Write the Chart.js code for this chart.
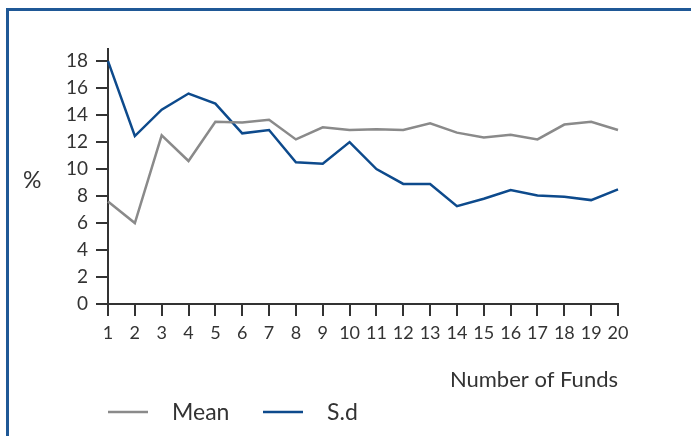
<!DOCTYPE html>
<html>
<head>
<meta charset="utf-8">
<script src="https://cdn.jsdelivr.net/npm/chart.js@4/dist/chart.umd.min.js"></script>
<style>
  html, body { margin: 0; padding: 0; background: #fff; }
  #wrap { position: relative; width: 691px; height: 436px; overflow: hidden; }
  #frame { position: absolute; left: 6px; top: 8px; width: 700px; height: 450px;
           border-left: 3px solid #1f5896; border-top: 3px solid #1f5896; }
  canvas { position: absolute; left: 0; top: 0; }
</style>
</head>
<body>
<div id="wrap">
  <div id="frame"></div>
  <canvas id="myChart" width="691" height="436"></canvas>
</div>
<script>
// data
let funds = ['1','2','3','4','5','6','7','8','9','10','11','12','13','14','15','16','17','18','19','20']
let meanValues = [7.6, 6.0, 12.5, 10.6, 13.5, 13.45, 13.65, 12.2, 13.1, 12.9, 12.95, 12.9, 13.4, 12.7, 12.35, 12.55, 12.2, 13.3, 13.5, 12.9]
let sdValues = [18.0, 12.45, 14.4, 15.6, 14.85, 12.65, 12.9, 10.5, 10.4, 12.0, 10.0, 8.9, 8.9, 7.25, 7.8, 8.45, 8.05, 7.95, 7.7, 8.5]
let yTicks = [0, 2, 4, 6, 8, 10, 12, 14, 16, 18]

let font = "Lato, 'Open Sans', sans-serif"
let axisColor = '#333333'

// draws the "%" label and the legend under the axis
let extras = {
    id: 'extras',
    afterDraw(chart) {
        let ctx = chart.ctx
        ctx.save()
        ctx.fillStyle = axisColor
        ctx.font = '23px ' + font
        ctx.textBaseline = 'middle'
        ctx.textAlign = 'left'
        ctx.fillText('%', 23, 181)

        let legendX = [108, 263]
        chart.data.datasets.forEach(function (ds, i) {
            let x = legendX[i]
            ctx.strokeStyle = ds.borderColor
            ctx.lineWidth = 2.5
            ctx.beginPath()
            ctx.moveTo(x, 412)
            ctx.lineTo(x + 40, 412)
            ctx.stroke()
            ctx.fillStyle = axisColor
            ctx.font = '23px ' + font
            ctx.fillText(ds.label, x + 64, 413)
        })
        ctx.restore()
    }
}

let ctx = document.getElementById('myChart').getContext('2d')
let myChart = new Chart(ctx, {
    type: 'line',
    data: {
        labels: funds,
        datasets: [{
            label: 'Mean',
            data: meanValues,
            borderColor: '#8a8a8a',
            borderWidth: 2.5,
            pointRadius: 0,
            tension: 0
        }, {
            label: 'S.d',
            data: sdValues,
            borderColor: '#0d4a8c',
            borderWidth: 2.5,
            pointRadius: 0,
            tension: 0
        }]
    },
    options: {
        responsive: false,
        animation: false,
        layout: { padding: { left: 0, right: 73, top: 49, bottom: 36 } },
        plugins: { legend: { display: false }, tooltip: { enabled: false } },
        scales: {
            x: {
                offset: false,
                grid: { drawOnChartArea: false, drawTicks: true, tickLength: 12, color: axisColor, lineWidth: 2 },
                border: { display: true, color: axisColor, width: 2 },
                ticks: { color: axisColor, font: { family: font, size: 18 }, padding: 6, maxRotation: 0, autoSkip: false },
                title: { display: true, text: 'Number of Funds', align: 'end', color: axisColor,
                         font: { family: font, size: 22 }, padding: { top: 0, bottom: 7 } },
                afterFit(scale) { scale.height = 96 }
            },
            y: {
                min: 0,
                max: 18.9,
                grid: { drawOnChartArea: false, drawTicks: true, tickLength: 12, color: axisColor, lineWidth: 2 },
                border: { display: true, color: axisColor, width: 2 },
                ticks: { stepSize: 2, color: axisColor, font: { family: font, size: 19 }, padding: 8 },
                afterBuildTicks(scale) {
                    scale.ticks = yTicks.map(function (v) { return { value: v } })
                },
                afterFit(scale) { scale.width = 108 }
            }
        }
    },
    plugins: [extras]
})
</script>
</body>
</html>
